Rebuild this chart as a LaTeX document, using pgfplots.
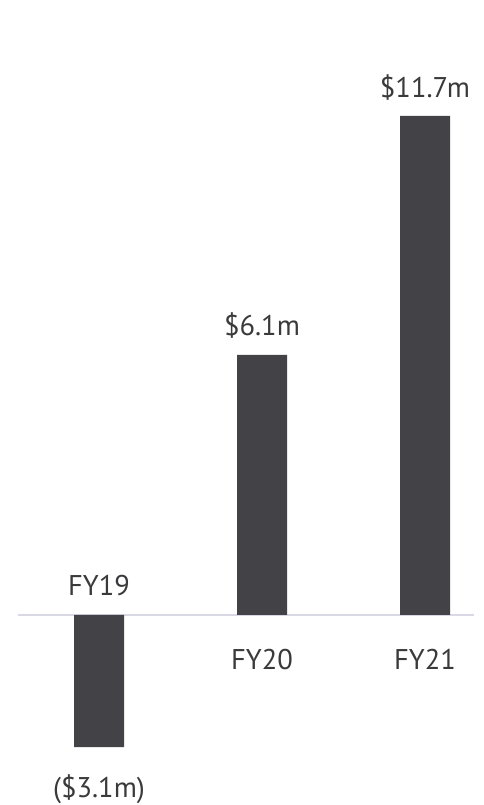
\documentclass[border=0pt]{standalone}
\usepackage{pgfplots}
\pgfplotsset{compat=1.18}
\usepackage{fontspec}
\setmainfont{PT Sans}
\definecolor{barc}{HTML}{434347}
\definecolor{basec}{HTML}{D8D9E4}
\definecolor{txt}{HTML}{3A3A3C}
\tikzset{lbl/.style={font=\fontsize{28.5}{32}\selectfont, text=txt, inner sep=0pt, anchor=base}}
\begin{document}
\begin{tikzpicture}
\begin{axis}[
  scale only axis, width=484pt, height=805pt,
  axis lines=none,
  xmin=-0.6074, xmax=2.362,
  ymin=-4.455, ymax=14.42,
  clip=false,
  ybar, bar width=50pt,
]
\path[use as bounding box] (rel axis cs:0,0) rectangle (rel axis cs:1,1);
\draw[basec, line width=2pt] (axis cs:-0.497,0) -- (axis cs:2.301,0);
\addplot[fill=barc, draw=none] coordinates {(0,-3.1) (1,6.1) (2,11.7)};
\node[lbl] at (axis cs:0,0) [yshift=19pt] {FY19};
\node[lbl] at (axis cs:1,0) [yshift=-55pt] {FY20};
\node[lbl] at (axis cs:2,0) [yshift=-55pt] {FY21};
\node[lbl] at (axis cs:0,-3.1) [yshift=-50pt] {(\$3.1m)};
\node[lbl] at (axis cs:1,6.1) [yshift=19pt] {\$6.1m};
\node[lbl] at (axis cs:2,11.7) [yshift=18pt] {\$11.7m};
\end{axis}
\end{tikzpicture}
\end{document}
